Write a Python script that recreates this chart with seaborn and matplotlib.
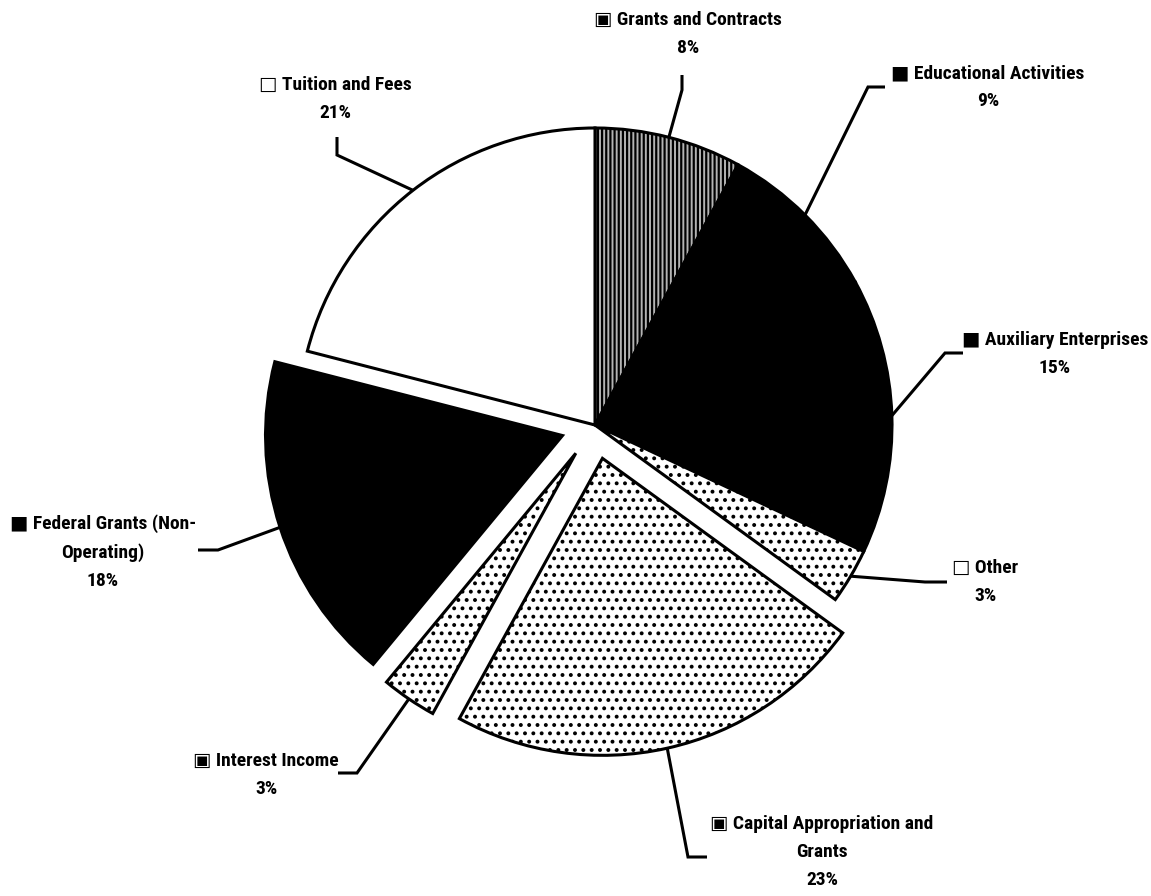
import numpy as np
import matplotlib
matplotlib.use("Agg")
import matplotlib.pyplot as plt
from matplotlib import font_manager as fm
import seaborn as sns

# ---- data ----
categories = ["Grants and Contracts", "Educational Activities", "Auxiliary Enterprises",
              "Other", "Capital Appropriation and\nGrants", "Interest Income",
              "Federal Grants (Non-\nOperating)", "Tuition and Fees"]
shares = [8, 9, 15, 3, 23, 3, 18, 21]
exploded = [0, 0, 0, 0, 1, 1, 1, 0]

# ---- style ----
sns.set_theme(style="white")
names = sorted({f.name for f in fm.fontManager.ttflist})
narrow = [n for n in names if "Narrow" in n or "Condensed" in n]
pref = [n for n in ["Liberation Sans Narrow", "Arial Narrow", "DejaVu Sans Condensed",
                    "Roboto Condensed", "Open Sans Condensed"] if n in names]
if pref:
    main_font, fsize = pref[0], 14
elif narrow:
    main_font, fsize = narrow[0], 14
else:
    main_font, fsize = "Roboto", 13
plt.rcParams['font.family'] = [main_font, 'DejaVu Sans']
plt.rcParams['hatch.linewidth'] = 1.6

W, H = 1151, 896
fig = plt.figure(figsize=(W / 100, H / 100), dpi=100)
ax = fig.add_axes([0, 0, 1, 1])
CX, CY, R = 595, 425, 297  # pixel layout of the pie


def px(x, y):
    return (x - CX) / R, (CY - y) / R


faces = ["#b4b4b4", "black", "black", "white", "white", "white", "black", "white"]
hatches = ["||||", None, None, "..", "..", "..", None, None]
keys = ["▣", "■", "■", "□", "▣", "▣", "■", "□"]

wedges, _ = ax.pie(shares, explode=[0.115 * e for e in exploded], startangle=90,
                   counterclock=False, radius=1, center=(0, 0),
                   wedgeprops=dict(edgecolor="black", linewidth=2.2))
ax.set_xlim((0 - CX) / R, (W - CX) / R)
ax.set_ylim((CY - H) / R, (CY - 0) / R)
ax.set_aspect("auto")
ax.axis("off")
for w, fc, h in zip(wedges, faces, hatches):
    w.set_facecolor(fc)
    if h:
        w.set_hatch(h)

# label layout (pixel positions)
label_pos = [(688, 34), (988, 87), (1055, 354), (985, 582),
             (822, 852), (266, 775), (103, 552), (335, 99)]
elbows = [(682, 90), (868, 87), (945, 353), (925, 582),
          (688, 857), (357, 773), (218, 550), (337, 155)]
ends = [(682, 75), (885, 87), (963, 353), (947, 582),
        (707, 857), (338, 773), (198, 550), (337, 137)]

total = sum(shares)
for w, cat, v, key, lp, el, en in zip(wedges, categories, shares, keys,
                                       label_pos, elbows, ends):
    ang = np.deg2rad((w.theta1 + w.theta2) / 2)
    cx, cy = w.center
    ax_ = cx + w.r * np.cos(ang)
    ay_ = cy + w.r * np.sin(ang)
    ex, ey = px(*el)
    nx, ny = px(*en)
    ax.plot([ax_, ex, nx], [ay_, ey, ny], color="black", lw=2.2,
            solid_capstyle="butt", solid_joinstyle="miter", zorder=5)
    tx, ty = px(*lp)
    ax.text(tx, ty, f"{key} {cat}\n{v / total * 100:.0f}%", ha="center", va="center",
            multialignment="center", fontsize=fsize, fontweight="bold",
            color="black", linespacing=1.72)

fig.savefig("out.png", dpi=100, facecolor="white")
